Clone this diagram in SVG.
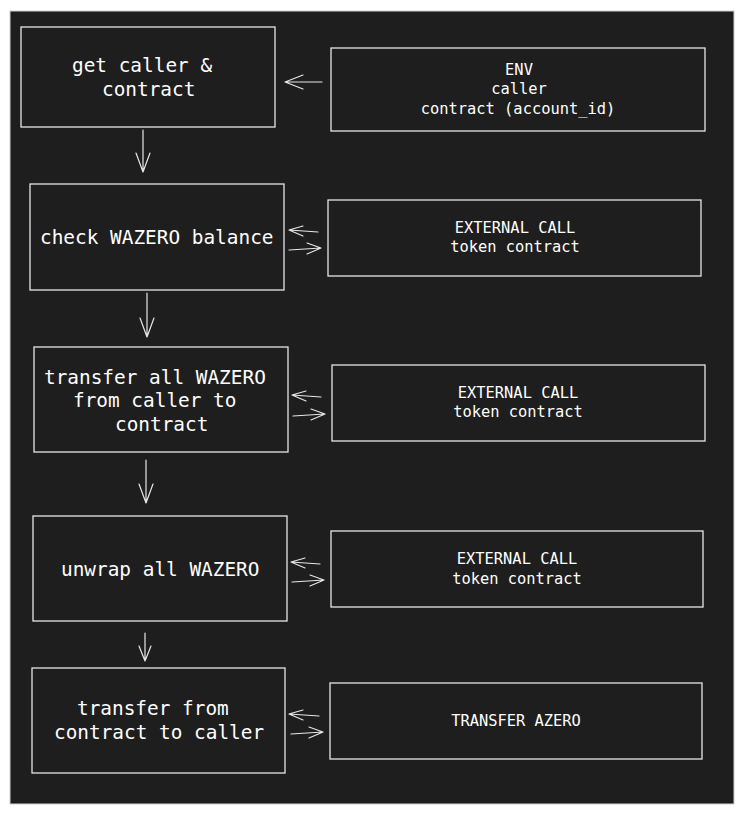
<svg xmlns="http://www.w3.org/2000/svg" width="744" height="815" viewBox="0 0 744 815">
<style>
.box{fill:#1e1e1e;stroke:#e6e6e6;stroke-width:1.3}
.main{font-family:"DejaVu Sans Mono","Liberation Mono",monospace;font-size:19.4px;fill:#ffffff}
.side{font-family:"DejaVu Sans Mono","Liberation Mono",monospace;font-size:15.4px;fill:#ffffff;text-anchor:middle}
.conn path{fill:none;stroke:#e6e6e6;stroke-width:1.2;stroke-linecap:round;stroke-linejoin:round}
</style>
<rect x="0" y="0" width="744" height="815" fill="#ffffff"/>
<rect x="10" y="11" width="724" height="793" fill="#1e1e1e" stroke="#cfcfcf" stroke-width="1"/>
<g id="get-caller">
<rect class="box" x="21" y="27" width="254" height="100"/>
<text class="main" x="72" y="72">get caller &amp;</text>
<text class="main" x="102" y="96">contract</text>
</g>
<g id="env">
<rect class="box" x="331" y="48" width="374" height="83"/>
<text class="side" x="519" y="75">ENV</text>
<text class="side" x="519" y="94">caller</text>
<text class="side" x="518" y="114">contract (account_id)</text>
</g>
<g id="check-balance">
<rect class="box" x="30" y="184" width="254" height="106"/>
<text class="main" x="40" y="244">check WAZERO balance</text>
</g>
<g id="ext-call-1">
<rect class="box" x="328" y="200" width="373" height="76"/>
<text class="side" x="515" y="233">EXTERNAL CALL</text>
<text class="side" x="515" y="252">token contract</text>
</g>
<g id="transfer-all">
<rect class="box" x="34" y="347" width="254" height="105"/>
<text class="main" x="44" y="384">transfer all WAZERO</text>
<text class="main" x="73" y="407">from caller to</text>
<text class="main" x="115" y="431">contract</text>
</g>
<g id="ext-call-2">
<rect class="box" x="332" y="365" width="373" height="76"/>
<text class="side" x="518" y="398">EXTERNAL CALL</text>
<text class="side" x="518" y="417">token contract</text>
</g>
<g id="unwrap">
<rect class="box" x="33" y="516" width="254" height="105"/>
<text class="main" x="61" y="576">unwrap all WAZERO</text>
</g>
<g id="ext-call-3">
<rect class="box" x="331" y="531" width="372" height="76"/>
<text class="side" x="517" y="564">EXTERNAL CALL</text>
<text class="side" x="517" y="584">token contract</text>
</g>
<g id="transfer-from">
<rect class="box" x="32" y="668" width="253" height="105"/>
<text class="main" x="77" y="715">transfer from</text>
<text class="main" x="54" y="739">contract to caller</text>
</g>
<g id="transfer-azero">
<rect class="box" x="330" y="683" width="372" height="76"/>
<text class="side" x="516" y="726">TRANSFER AZERO</text>
</g>
<g id="connectors" class="conn">
<path d="M322 82 L285 82 M303 75 L285 82 L303 89"/>
<path d="M143 130 L143 172 M136 153 L143 172 L150 153"/>
<path d="M147 293 L147 337 M140 318 L147 337 L154 318"/>
<path d="M146 460 L146 503 M139 484 L146 503 L153 484"/>
<path d="M145 633 L145 661 M139 646 L145 661 L151 646"/>
<path d="M318 232 L289 230 M303 226 L289 230 L303 236"/>
<path d="M289 250 L321 248 M307 243 L321 248 L307 254"/>
<path d="M321 397 L292 395 M306 391 L292 395 L306 401"/>
<path d="M293 416 L325 414 M311 409 L325 414 L311 420"/>
<path d="M320 564 L291 562 M305 558 L291 562 L305 568"/>
<path d="M292 582 L324 580 M310 575 L324 580 L310 586"/>
<path d="M319 716 L289 714 M303 710 L289 714 L303 720"/>
<path d="M291 734 L323 732 M309 727 L323 732 L309 738"/>
</g>
</svg>
